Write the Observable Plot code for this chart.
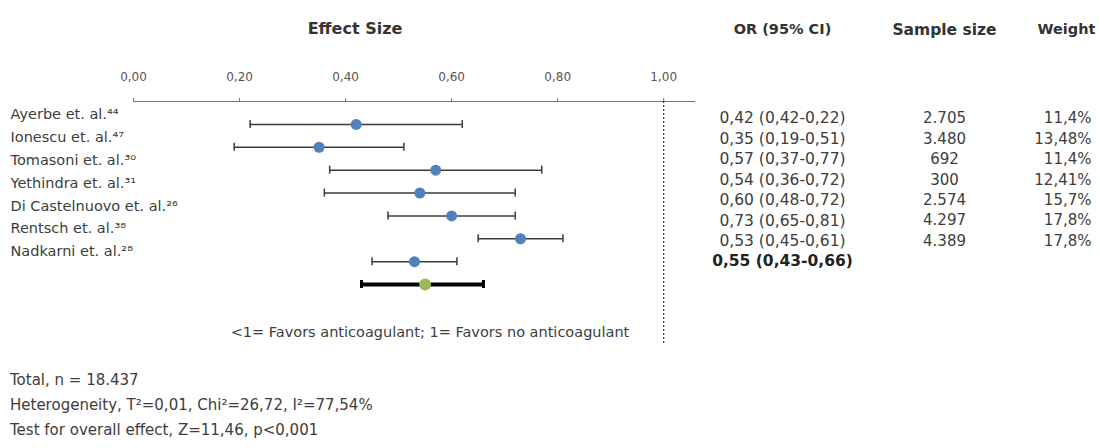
<!DOCTYPE html>
<html><head><meta charset="utf-8">
<script src="https://cdn.jsdelivr.net/npm/d3@7"></script>
<script src="https://cdn.jsdelivr.net/npm/@observablehq/plot@0.6"></script>
<style>
body{margin:0;background:#fff;}
#wrap{position:relative;width:1099px;height:448px;font-family:"DejaVu Sans",sans-serif;color:#3a3a3a;overflow:hidden;}
#wrap svg{position:absolute;left:0;top:0;}
.t{position:absolute;white-space:nowrap;line-height:1;}
</style></head><body><div id="wrap"></div>
<script>
// ---- data ----
const studies = ["Ayerbe et. al.⁴⁴", "Ionescu et. al.⁴⁷", "Tomasoni et. al.³⁰", "Yethindra et. al.³¹", "Di Castelnuovo et. al.²⁶", "Rentsch et. al.³⁸", "Nadkarni et. al.²⁸"];
const oddsRatio = [0.42, 0.35, 0.57, 0.54, 0.60, 0.73, 0.53];
const ciLow     = [0.22, 0.19, 0.37, 0.36, 0.48, 0.65, 0.45];
const ciHigh    = [0.62, 0.51, 0.77, 0.72, 0.72, 0.81, 0.61];
const pooledOR = 0.55, pooledLow = 0.43, pooledHigh = 0.66;
const orLabels = ["0,42 (0,42-0,22)", "0,35 (0,19-0,51)", "0,57 (0,37-0,77)", "0,54 (0,36-0,72)", "0,60 (0,48-0,72)", "0,73 (0,65-0,81)", "0,53 (0,45-0,61)"];
const pooledLabel = "0,55 (0,43-0,66)";
const sampleSizes = ["2.705", "3.480", "692", "300", "2.574", "4.297", "4.389"];
const weights = ["11,4%", "13,48%", "11,4%", "12,41%", "15,7%", "17,8%", "17,8%"];
const xTicks = [0, 0.2, 0.4, 0.6, 0.8, 1.0];
const columns = ["OR (95% CI)", "Sample size", "Weight"];
const title = "Effect Size";
const caption = "<1= Favors anticoagulant; 1= Favors no anticoagulant";
const footer = ["Total, n = 18.437", "Heterogeneity, T²=0,01, Chi²=26,72, I²=77,54%", "Test for overall effect, Z=11,46, p<0,001"];

// ---- build ----
const W = 1099, H = 448;
const rows = studies.map((s, i) => ({study: s, row: i, or: oddsRatio[i], lo: ciLow[i], hi: ciHigh[i], orLabel: orLabels[i], n: sampleSizes[i], w: weights[i]}));
const pooled = [{row: studies.length, or: pooledOR, lo: pooledLow, hi: pooledHigh, orLabel: pooledLabel}];
const fmt = d => d3.format(".2f")(d).replace(".", ",");
const txt = "#3d3d3d";
const font = "'DejaVu Sans', sans-serif";

const A = Plot.plot({
  width: W, height: H,
  marginTop: 101, marginBottom: 103, marginLeft: 133, marginRight: W - 695,
  style: {background: "transparent", fontFamily: font, color: txt},
  x: {domain: [0, 1.06]},
  y: {domain: [-1, studies.length], range: [101, 284], axis: null},
  marks: [
    Plot.axisX({anchor: "top", ticks: xTicks, tickFormat: fmt, tickSize: 4, tickPadding: 17, fontSize: 12, stroke: "#777", fill: "#555", label: null}),
    Plot.ruleY([-1], {stroke: "#777", strokeWidth: 1.2}),
    Plot.ruleX([1], {stroke: "#333", strokeDasharray: "2,2", strokeWidth: 1.2}),
    Plot.ruleY(rows, {x1: "lo", x2: "hi", y: "row", stroke: "#3a3a3a", strokeWidth: 1.5}),
    Plot.ruleX(rows, {x: "lo", y1: "row", y2: "row", insetTop: -4, insetBottom: -4, stroke: "#3a3a3a", strokeWidth: 1.5}),
    Plot.ruleX(rows, {x: "hi", y1: "row", y2: "row", insetTop: -4, insetBottom: -4, stroke: "#3a3a3a", strokeWidth: 1.5}),
    Plot.dot(rows, {x: "or", y: "row", r: 5.5, fill: "#5080bd"}),
    Plot.ruleY(pooled, {x1: "lo", x2: "hi", y: "row", stroke: "#000", strokeWidth: 4}),
    Plot.ruleX(pooled, {x: "lo", y1: "row", y2: "row", insetTop: -4, insetBottom: -4, stroke: "#000", strokeWidth: 3}),
    Plot.ruleX(pooled, {x: "hi", y1: "row", y2: "row", insetTop: -4, insetBottom: -4, stroke: "#000", strokeWidth: 3}),
    Plot.dot(pooled, {x: "or", y: "row", r: 6, fill: "#9bbb59"}),
    Plot.text(rows, {y: "row", text: "study", frameAnchor: "left", textAnchor: "start", dx: -123, dy: -10, fontSize: 14.5, fill: txt})
  ]
});

const B = Plot.plot({
  width: W, height: H,
  marginTop: 101, marginBottom: 103, marginLeft: 0, marginRight: 0,
  style: {background: "transparent", fontFamily: font, color: txt},
  x: {type: "point", domain: columns, range: [782, 1066], padding: 0, axis: null},
  y: {domain: [0, studies.length], range: [118, 261], axis: null},
  marks: [
    ...columns.map((c, j) => Plot.text([c], {x: d => d, text: d => d, frameAnchor: "top", dy: -78, dx: j === 1 ? 20 : 0, fontWeight: "bold", fontSize: j === 1 ? 15.5 : 14.5, fill: "#333"})),
    Plot.text(rows, {x: () => columns[0], y: "row", text: "orLabel", fontSize: 15.5, fill: txt}),
    Plot.text(pooled, {x: () => columns[0], y: "row", text: "orLabel", fontSize: 15.5, fontWeight: "bold", fill: "#222"}),
    Plot.text(rows, {x: () => columns[1], y: "row", text: "n", dx: 20, fontSize: 15, fill: txt}),
    Plot.text(rows, {x: () => columns[2], y: "row", text: "w", dx: 25, textAnchor: "end", fontSize: 15, fill: txt})
  ]
});

const wrap = document.getElementById("wrap");
wrap.append(A, B);
function addText(s, css) { const d = document.createElement("div"); d.className = "t"; d.textContent = s; Object.assign(d.style, css); wrap.append(d); }
addText(title, {left: "355px", top: "21px", transform: "translateX(-50%)", fontWeight: "bold", fontSize: "16px", color: "#333"});
addText(caption, {left: "430px", top: "325px", transform: "translateX(-50%)", fontSize: "14.5px", color: txt});
footer.forEach((s, i) => addText(s, {left: "10px", top: (373 + 25 * i) + "px", fontSize: "15px", color: txt}));
</script></body></html>
